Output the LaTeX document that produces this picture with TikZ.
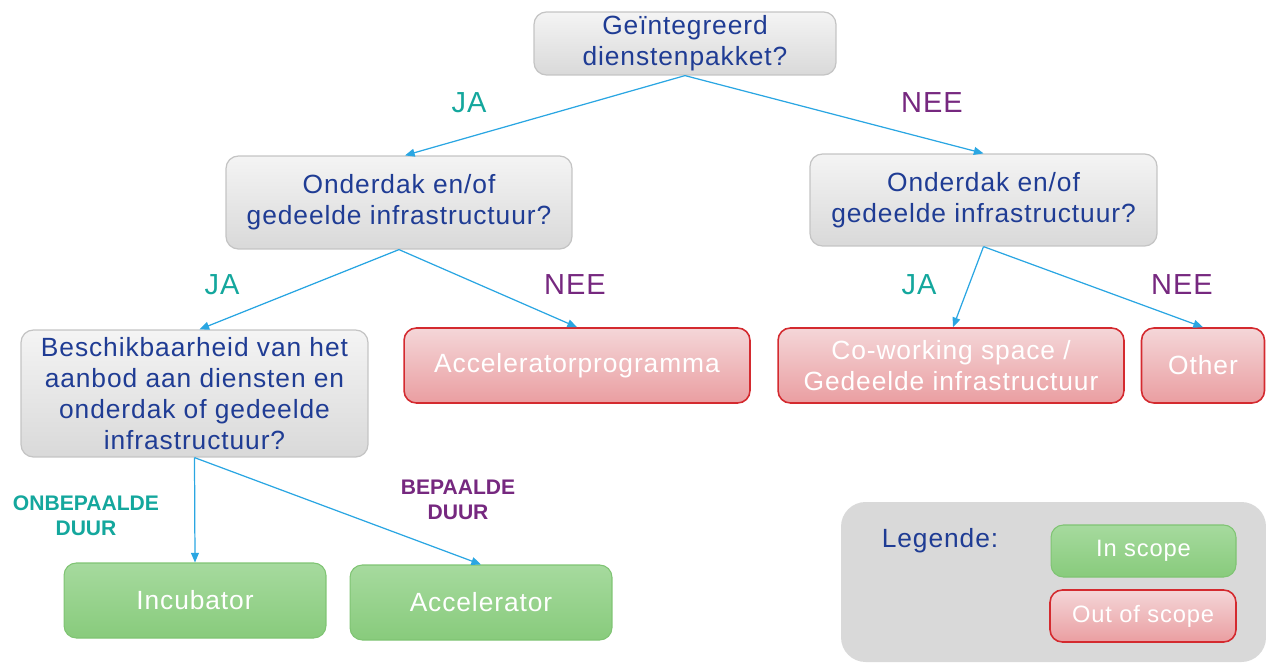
\documentclass[tikz,border=0pt]{standalone}
\usepackage{fontspec}
\setmainfont{Liberation Sans}[LetterSpace=3.5]
\newfontfamily\plainfont{Liberation Sans}
\usetikzlibrary{arrows.meta,shapes.misc}
\definecolor{txtblue}{HTML}{1F3C94}
\definecolor{jacol}{HTML}{14A79D}
\definecolor{neecol}{HTML}{76287F}
\definecolor{edgeblue}{HTML}{2AA6E2}
\definecolor{grayborder}{HTML}{C4C4C4}
\definecolor{graytop}{HTML}{F4F4F4}
\definecolor{graybot}{HTML}{D9D9D9}
\definecolor{redborder}{HTML}{D42A2F}
\definecolor{redlight}{HTML}{F4D6D8}
\definecolor{reddark}{HTML}{EA9EA1}
\definecolor{greenborder}{HTML}{7FC473}
\definecolor{greenlight}{HTML}{A6DA9E}
\definecolor{greendark}{HTML}{88CB7C}
\definecolor{legendgray}{HTML}{D9D9D9}
\tikzset{
  question/.style={draw=grayborder, line width=0.7pt, rounded corners=7pt,
    top color=graytop, bottom color=graybot, text=txtblue, align=center,
    font=\fontsize{15}{17.5}\selectfont, inner sep=0pt},
  outbox/.style={draw=redborder, line width=0.9pt, rounded corners=7pt,
    top color=redlight, bottom color=reddark,
    text=white, align=center, font=\fontsize{15}{17.5}\selectfont, inner sep=0pt},
  inbox/.style={draw=greenborder, line width=0.6pt, rounded corners=7pt,
    top color=greenlight, bottom color=greendark,
    text=white, align=center, font=\fontsize{15}{17.5}\selectfont, inner sep=0pt},
  edge/.style={draw=edgeblue, line width=0.7pt, -{Triangle[length=5.5pt,width=4.5pt]}},
  yes/.style={text=jacol, font=\fontsize{16.5}{19}\selectfont},
  no/.style={text=neecol, font=\fontsize{16.5}{19}\selectfont},
  durlab/.style={align=center, font=\plainfont\bfseries\fontsize{12}{14}\selectfont}
}
\begin{document}
\begin{tikzpicture}[x=0.02cm, y=-0.02cm]
\useasboundingbox (0,0) rectangle (1266,662);
% legend background
\fill[legendgray, rounded corners=14pt] (841,502) rectangle (1266,662);

\node[question, minimum width=6.04cm, minimum height=1.26cm] (top) at (685,43.5) {Geïntegreerd\\dienstenpakket?};
\node[question, minimum width=6.92cm, minimum height=1.86cm] (l1l) at (399,202.5) {Onderdak en/of\\gedeelde infrastructuur?};
\node[question, minimum width=6.94cm, minimum height=1.84cm] (l1r) at (983.5,200) {Onderdak en/of\\gedeelde infrastructuur?};
\node[question, minimum width=6.94cm, minimum height=2.54cm] (besch) at (194.5,393.5) {Beschikbaarheid van het\\aanbod aan diensten en\\onderdak of gedeelde\\infrastructuur?};
\node[outbox, minimum width=6.92cm, minimum height=1.5cm] (accprog) at (577,365.5) {Acceleratorprogramma};
\node[outbox, minimum width=6.92cm, minimum height=1.5cm] (cowork) at (951,365.5) {Co-working space /\\Gedeelde infrastructuur};
\node[outbox, minimum width=2.46cm, minimum height=1.5cm] (other) at (1203,365.5) {Other};
\node[inbox, minimum width=5.24cm, minimum height=1.5cm] (incub) at (195,600.5) {Incubator};
\node[inbox, minimum width=5.24cm, minimum height=1.5cm] (accel) at (481,602.5) {Accelerator};

% legend
\node[text=txtblue, font=\fontsize{15}{17.5}\selectfont] (legende) at (940,541) {Legende:};
\node[inbox, minimum width=3.7cm, minimum height=1.04cm, font=\fontsize{13.5}{15}\selectfont] (inscope) at (1143.5,551) {In scope};
\node[outbox, minimum width=3.72cm, minimum height=1.04cm, font=\fontsize{13.5}{15}\selectfont] (outscope) at (1143,616) {Out of scope};

% edges
\draw[edge] (top.south) -- ([xshift=0.12cm]l1l.north);
\draw[edge] (top.south) -- (l1r.north);
\draw[edge] (l1l.south) -- ([xshift=0.1cm]besch.north);
\draw[edge] (l1l.south) -- (accprog.north);
\draw[edge] (l1r.south) -- ([xshift=0.04cm]cowork.north);
\draw[edge] (l1r.south) -- (other.north);
\draw[edge] (besch.south) -- (incub.north);
\draw[edge] (besch.south) -- (accel.north);

% labels
\node[yes] (ja1) at (469,103) {JA};
\node[no] (nee1) at (932,103) {NEE};
\node[yes] (ja2) at (222,285) {JA};
\node[no] (nee2) at (575,285) {NEE};
\node[yes] (ja3) at (919,285) {JA};
\node[no] (nee3) at (1182,285) {NEE};
\node[durlab, text=jacol] (onb) at (86,516) {ONBEPAALDE\\DUUR};
\node[durlab, text=neecol] (bep) at (458,500) {BEPAALDE\\DUUR};
\end{tikzpicture}
\end{document}
